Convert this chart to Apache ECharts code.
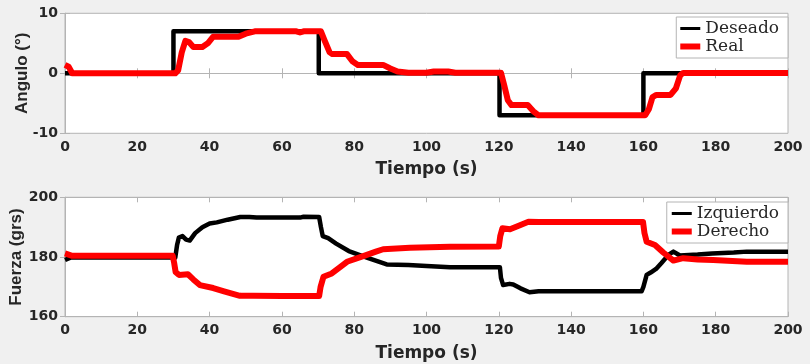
<!DOCTYPE html>
<html>
<head>
<meta charset="utf-8">
<script src="https://cdn.jsdelivr.net/npm/echarts@6/dist/echarts.min.js"></script>
<style>html,body{margin:0;padding:0;background:#f0f0f0;}#c{width:810px;height:364px;}</style>
</head>
<body>
<div id="c"></div>
<script>
// ---- data ----
var xTicks = [0, 20, 40, 60, 80, 100, 120, 140, 160, 180, 200];
var angTicks = [-10, 0, 10];
var fzaTicks = [160, 180, 200];

var deseado = [[0,0],[30,0],[30,7],[70.2,7],[70.2,0],[120.2,0],[120.2,-7],[160,-7],[160,0],[200,0]];
var real = [[0,1.4],[1,1.1],[2,0],[30.5,0],[31.3,0.5],[32.3,3.5],[33.3,5.4],[34.3,5.2],[35.5,4.4],[38,4.4],[39.5,5],[41,6.1],[48,6.1],[50,6.6],[52.5,7],[64,7],[65,6.8],[66,7],[70.8,7],[71.8,5.5],[73.2,3.5],[74,3.2],[78,3.2],[79.5,2],[81,1.4],[88,1.4],[90,0.8],[92,0.3],[95,0.1],[100,0.1],[102,0.3],[106,0.3],[108,0.1],[120.6,0.1],[121.5,-2],[122.5,-4.5],[123.5,-5.3],[128,-5.3],[129.5,-6.3],[131,-7],[160.5,-7],[161.5,-6],[162.5,-4],[163.5,-3.6],[167.5,-3.6],[169,-2.5],[170.2,-0.3],[171,0.05],[200,0.05]];

var izquierdo = [[0,179],[1.5,179.8],[30.5,179.8],[31,184],[31.5,186.5],[32.5,187],[33.5,185.8],[34.5,185.5],[36,188],[38,190],[40,191.2],[42,191.6],[45,192.5],[48.5,193.4],[51,193.4],[53,193.2],[65,193.2],[66,193.5],[70.3,193.4],[70.8,190],[71.3,187],[72.8,186.3],[75,184.5],[78.5,182],[83.5,179.8],[89,177.5],[95,177.3],[100,177],[106.5,176.6],[120.3,176.6],[120.6,173],[121.2,170.6],[123,171],[124,170.8],[126,169.5],[128.5,168.2],[131,168.5],[159.5,168.5],[160,170],[160.9,174],[162,174.8],[163.5,176],[165,178],[167,180.8],[168.3,181.8],[170.1,180.5],[175,180.8],[179,181.2],[185,181.5],[188.6,181.8],[200,181.8]];
var derecho = [[0,181.2],[2,180.4],[29.8,180.4],[30.2,178],[30.6,175],[31.5,174],[34,174.2],[35.5,172.5],[37.3,170.6],[41,169.6],[44,168.5],[48.4,167],[52,167],[60,166.9],[70.3,166.9],[70.7,170],[71.5,173.4],[73.8,174.5],[76,176.5],[78,178.4],[82.5,180.3],[86,181.8],[88,182.6],[95.4,183.1],[106.5,183.4],[120,183.5],[120.4,187],[121,189.6],[123.1,189.3],[125.5,190.5],[128.2,191.8],[131,191.7],[159.9,191.7],[160.3,188],[160.9,185.1],[163.2,184],[165.5,181.5],[168.3,178.8],[171,179.6],[175,179.2],[179.3,179],[188.6,178.4],[200,178.4]];

// ---- chart ----
var boxColor = '#b4b4b4';
var txtColor = '#262626';
var tickFont = {fontFamily:'DejaVu Sans', fontWeight:'bold', fontSize:14, color:txtColor};
var xNameFont = {fontFamily:'DejaVu Sans', fontWeight:'bold', fontSize:17, color:txtColor};
var yNameFont = {fontFamily:'Liberation Sans', fontWeight:'bold', fontSize:17, color:txtColor};

function xAx(grid, top, showName) {
  return {
    type:'value', gridIndex:grid, position: top ? 'top' : 'bottom',
    min:xTicks[0], max:xTicks[xTicks.length-1], interval:xTicks[1]-xTicks[0],
    axisLine:{show:true, lineStyle:{color:boxColor}},
    axisTick:{show:true, inside:true, length:5, lineStyle:{color:boxColor}},
    axisLabel: top ? {show:false} : Object.assign({margin:7}, tickFont),
    splitLine:{show:false},
    name: showName ? 'Tiempo (s)' : '', nameLocation:'middle', nameGap:28, nameTextStyle:xNameFont,
    nameMoveOverlap:false
  };
}
function yAx(grid, ticks, right, name, gap) {
  return {
    type:'value', gridIndex:grid, position: right ? 'right' : 'left',
    min:ticks[0], max:ticks[ticks.length-1], interval:ticks[1]-ticks[0],
    axisLine:{show:true, lineStyle:{color:boxColor}},
    axisTick:{show:true, inside:true, length:5, lineStyle:{color:boxColor}},
    axisLabel: right ? {show:false} : Object.assign({margin:7}, tickFont),
    splitLine:{show:false},
    name: right ? '' : name, nameLocation:'middle', nameGap:gap, nameRotate:90, nameTextStyle:yNameFont,
    nameMoveOverlap:false
  };
}
function legendFor(names, top, padL, gapT) {
  return {
    orient:'vertical', right:22, top:top, align:'left', itemWidth:20, itemHeight:6, itemGap:1, itemTextGap:gapT,
    padding:[3, 9, 3, padL], backgroundColor:'#fff', borderColor:boxColor, borderWidth:1, borderRadius:0,
    textStyle:{fontFamily:'DejaVu Serif', fontSize:17, color:txtColor},
    data:[
      {name:names[0], icon:'path://M0,0H20V3H0Z', itemStyle:{color:'#000'}},
      {name:names[1], icon:'path://M0,0H20V6H0Z', itemStyle:{color:'#ff0000'}}
    ],
    symbolKeepAspect:true
  };
}
function lineS(name, data, xi, yi, color, w) {
  return {type:'line', name:name, data:data, xAxisIndex:xi, yAxisIndex:yi, showSymbol:false, symbol:'none',
    lineStyle:{color:color, width:w, join:'round', cap:'butt'}, itemStyle:{color:color}, clip:true, silent:true};
}

var chart = echarts.init(document.getElementById('c'), null, {renderer:'canvas'});
chart.setOption({
  animation:false,
  backgroundColor:'#f0f0f0',
  grid:[
    {left:65, right:22, top:13.3, height:120, show:true, backgroundColor:'#fff', borderColor:boxColor, borderWidth:1, outerBoundsMode:'none', containLabel:false},
    {left:65, right:22, top:197.3, height:119.4, show:true, backgroundColor:'#fff', borderColor:boxColor, borderWidth:1, outerBoundsMode:'none', containLabel:false}
  ],
  xAxis:[xAx(0,false,true), xAx(0,true,false), xAx(1,false,true), xAx(1,true,false)],
  yAxis:[yAx(0,angTicks,false,'Angulo (°)',34), yAx(0,angTicks,true,'',0), yAx(1,fzaTicks,false,'Fuerza (grs)',40), yAx(1,fzaTicks,true,'',0)],
  legend:[legendFor(['Deseado','Real'],17,4,2), legendFor(['Izquierdo','Derecho'],202,5,3)],
  series:[
    lineS('Deseado', deseado, 0, 0, '#000', 4.5),
    lineS('Real', real, 0, 0, '#ff0000', 6),
    lineS('Izquierdo', izquierdo, 2, 2, '#000', 4.5),
    lineS('Derecho', derecho, 2, 2, '#ff0000', 6)
  ]
});
</script>
</body>
</html>
